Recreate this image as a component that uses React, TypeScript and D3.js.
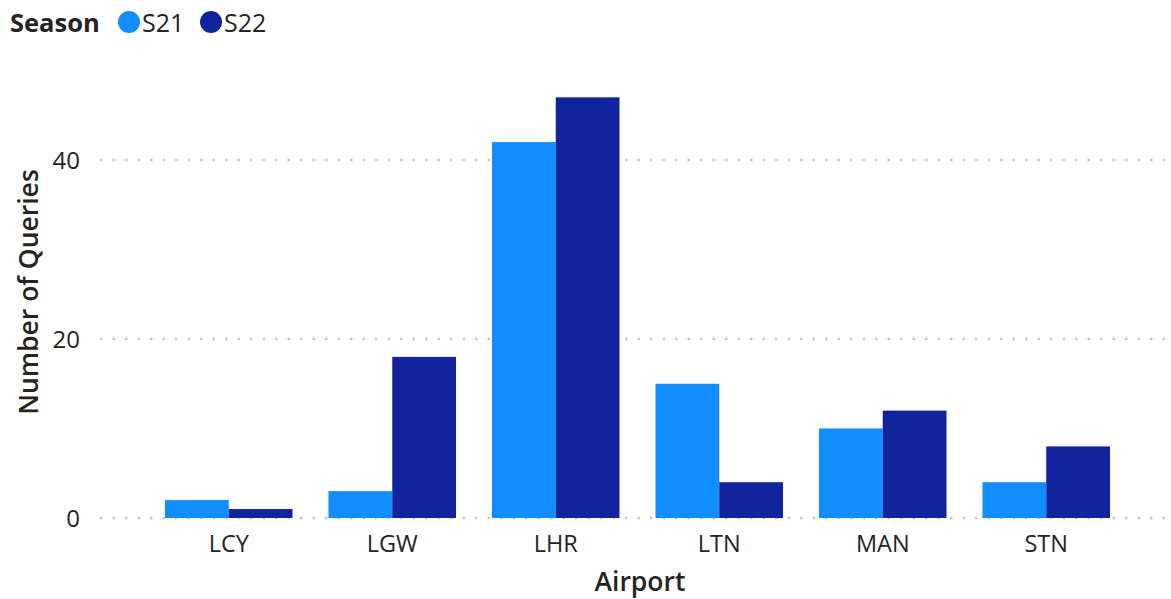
import React from "react";
import * as d3 from "d3";

const airports = ["LCY", "LGW", "LHR", "LTN", "MAN", "STN"];
const seasons = ["S21", "S22"];
const s21Values = [2, 3, 42, 15, 10, 4];
const s22Values = [1, 18, 47, 4, 12, 8];
const yTicks = [0, 20, 40];
const seasonColors = ["#118DFF", "#12239E"];

const W = 1171;
const H = 599;
const FONT = "'Segoe UI', 'Open Sans', sans-serif";
const TEXT = "#252423";

export default function App() {
  const x = d3.scaleBand<string>().domain(airports).range([147, 1128]).paddingInner(0.22).paddingOuter(0.11);
  const xs = d3.scaleBand<string>().domain(seasons).range([0, x.bandwidth()]).padding(0);
  const y = d3.scaleLinear().domain([0, 50]).range([518, 70.5]);
  const series = [s21Values, s22Values];
  const legendX = [129, 211];

  return (
    <svg width={W} height={H} style={{ position: "absolute", left: 0, top: 0, background: "#fff" }} fontFamily={FONT}>
      {/* legend */}
      <text x={10} y={32} fontSize={25.5} fontWeight={700} fill={TEXT}>Season</text>
      {seasons.map((s, i) => (
        <g key={s}>
          <circle cx={legendX[i]} cy={22} r={11} fill={seasonColors[i]} />
          <text x={legendX[i] + 13} y={32} fontSize={25} fill={TEXT}>{s}</text>
        </g>
      ))}
      {/* gridlines */}
      {yTicks.map((t) => (
        <g key={t}>
          <line x1={100} x2={W} y1={y(t)} y2={y(t)} stroke="#c8c8c8" strokeWidth={2.5} strokeDasharray="2.5,10" />
          <text x={80} y={y(t)} dy="0.36em" textAnchor="end" fontSize={24} fill={TEXT}>{t}</text>
        </g>
      ))}
      {/* bars */}
      {airports.map((a, i) => (
        <g key={a} transform={`translate(${x(a)},0)`}>
          {seasons.map((s, j) => (
            <rect key={s} x={xs(s)} y={y(series[j][i])} width={xs.bandwidth()} height={y(0) - y(series[j][i])} fill={seasonColors[j]} />
          ))}
          <text x={x.bandwidth() / 2} y={552} textAnchor="middle" fontSize={23.5} fill={TEXT}>{a}</text>
        </g>
      ))}
      {/* axis titles */}
      <text x={640} y={591} textAnchor="middle" fontSize={26.5} fontWeight={600} fill={TEXT}>Airport</text>
      <text transform={`translate(38,292) rotate(-90)`} textAnchor="middle" fontSize={26.5} fontWeight={600} fill={TEXT}>Number of Queries</text>
    </svg>
  );
}
